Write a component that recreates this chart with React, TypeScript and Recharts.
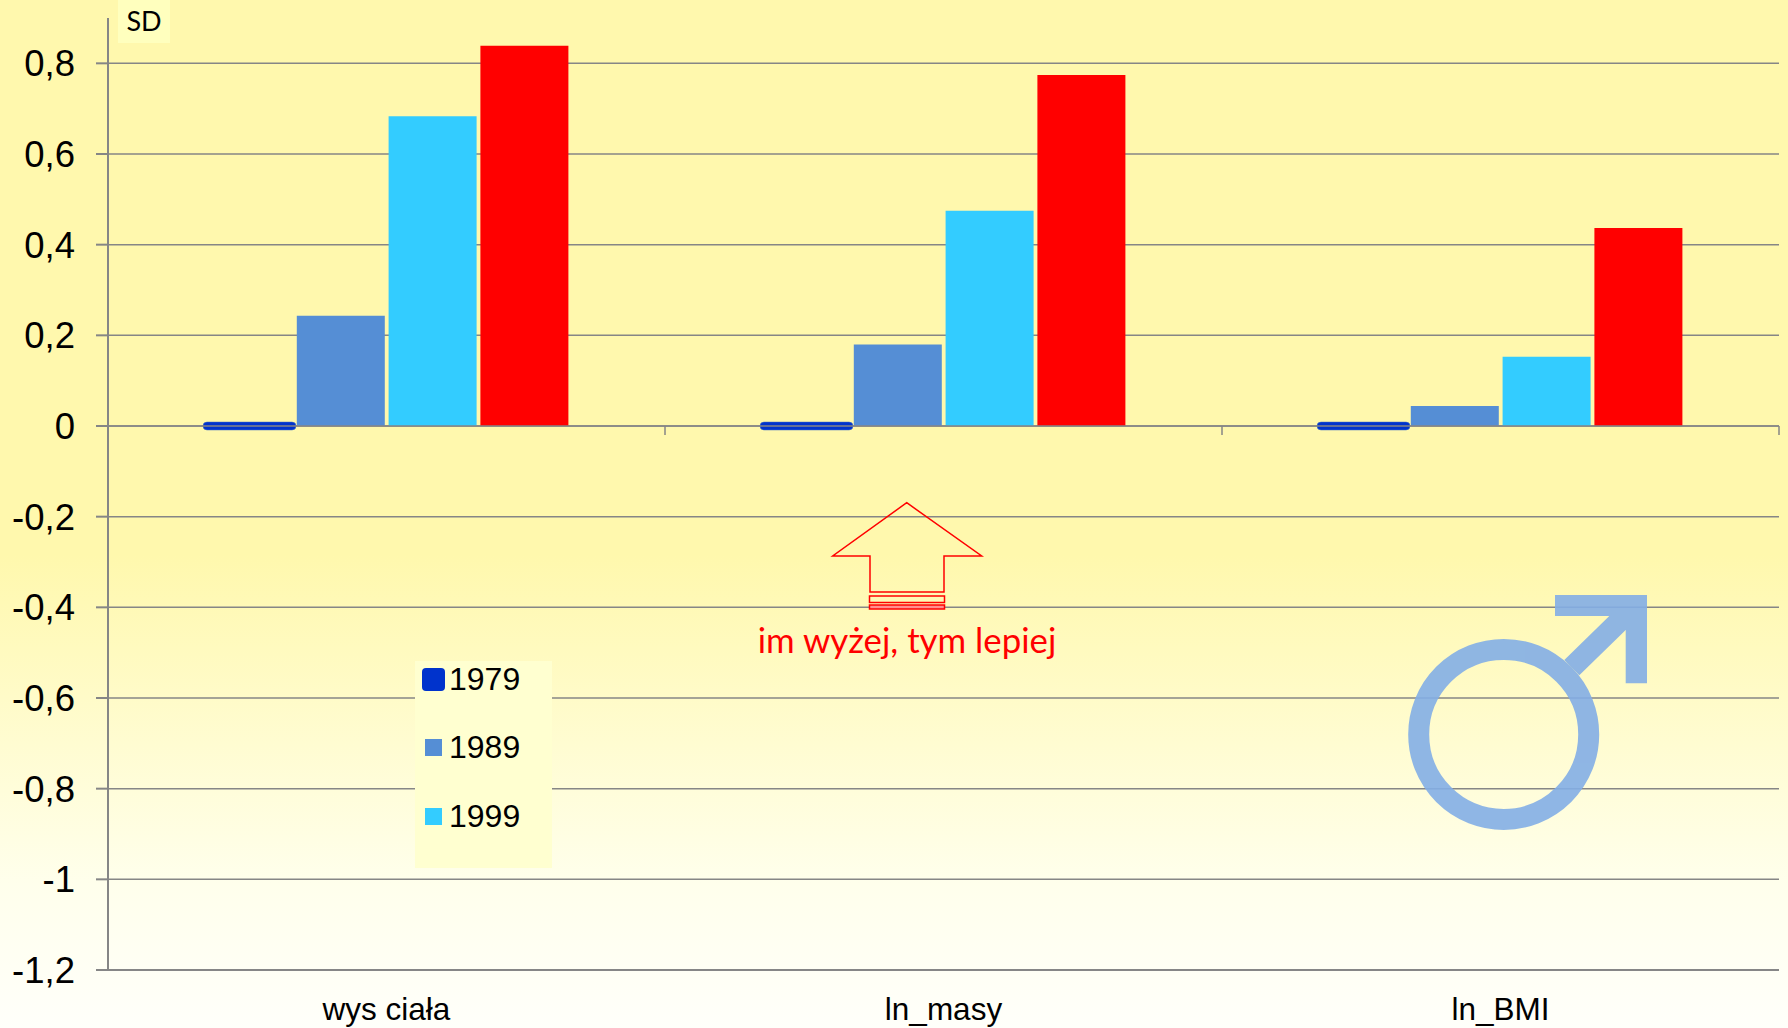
import {
  BarChart,
  Bar,
  XAxis,
  YAxis,
  CartesianGrid,
  ReferenceLine,
  Legend,
} from "recharts";

const categories = ["wys ciała", "ln_masy", "ln_BMI"];
const values1979 = [0, 0, 0];
const values1989 = [0.243, 0.18, 0.044];
const values1999 = [0.683, 0.475, 0.153];
const values2009 = [0.839, 0.774, 0.437];
const yTicks = [-1.2, -1, -0.8, -0.6, -0.4, -0.2, 0, 0.2, 0.4, 0.6, 0.8];

const data = categories.map((name, i) => ({
  name,
  y1979: values1979[i],
  y1989: values1989[i],
  y1999: values1999[i],
  y2009: values2009[i],
}));

const W = 1788;
const H = 1028;
const TOP = 18;
const BOTTOM = 970;
const LEFT = 108;
const RIGHT = 1779;
const CAT_W = (RIGHT - LEFT) / 3;
const ZERO_Y = TOP + (0.9 / 2.1) * (BOTTOM - TOP);
const AXIS = "#868686";
const ARIAL = "'Liberation Sans', Arial, sans-serif";

// the 1979 series is all zeros, drawn in the source as a thick rounded dash
const ZeroBar = (props: any) => (
  <rect
    x={props.x - 2}
    y={props.y - 4}
    width={props.width + 5}
    height={8}
    rx={4}
    fill="#0033CC"
    stroke="#4472C4"
    strokeWidth={0.5}
  />
);

const CategoryTick = ({ x, payload }: any) => (
  <g>
    <line x1={x + CAT_W / 2} x2={x + CAT_W / 2} y1={ZERO_Y} y2={ZERO_Y + 9} stroke={AXIS} strokeWidth={1.5} />
    <text x={x} y={BOTTOM + 50} textAnchor="middle" fontSize={31.5} fontFamily={ARIAL} fill="#000">
      {payload.value}
    </text>
  </g>
);

const LegendBox = ({ payload }: any) => {
  // the red series has no entry in the source legend
  const items = (payload || []).filter((p: any) => p.value !== "2009");
  return (
    <div style={{ position: "relative", width: 137, height: 207, background: "#FFFFD0", fontFamily: ARIAL, fontSize: 32 }}>
      {items.map((p: any, i: number) => {
        const first = i === 0;
        const size = first ? 23 : 17;
        const cy = [18, 86, 155][i];
        return (
          <div key={p.value}>
            <div
              style={{
                position: "absolute",
                left: first ? 7 : 10,
                top: cy - size / 2,
                width: size,
                height: size,
                borderRadius: first ? 4 : 0,
                background: p.color,
              }}
            />
            <div style={{ position: "absolute", left: 34, top: cy - 18, lineHeight: "36px", color: "#000" }}>{p.value}</div>
          </div>
        );
      })}
    </div>
  );
};

export default function App() {
  return (
    <div
      style={{
        position: "relative",
        width: W,
        height: H,
        overflow: "hidden",
        background:
          "linear-gradient(to bottom, #FFF8AD 0%, #FFF8AD 54%, #FFFFEC 86%, #FFFFFA 100%)",
      }}
    >
      <style>{`body{margin:0}`}</style>
      <div style={{ position: "absolute", left: 118, top: 0, width: 52, height: 43, background: "#FFFFBE" }} />
      <BarChart
        width={W}
        height={H}
        data={data}
        margin={{ top: TOP, right: W - RIGHT, bottom: 0, left: 0 }}
        barSize={88}
        barGap={3.8}
        style={{ position: "absolute", left: 0, top: 0 }}
      >
        <CartesianGrid vertical={false} stroke={AXIS} strokeWidth={1.5} syncWithTicks horizontalValues={yTicks} />
        <XAxis
          dataKey="name"
          height={H - BOTTOM}
          axisLine={{ stroke: AXIS, strokeWidth: 2 }}
          tickLine={false}
          tick={<CategoryTick />}
          interval={0}
        />
        <YAxis
          width={LEFT}
          domain={[-1.2, 0.9]}
          ticks={yTicks}
          interval={0}
          tickSize={12}
          tickMargin={21}
          axisLine={{ stroke: AXIS, strokeWidth: 2 }}
          tickLine={{ stroke: AXIS, strokeWidth: 2 }}
          tick={{ fontSize: 36.5, fontFamily: ARIAL, fill: "#000" }}
          tickFormatter={(v: number) => String(v).replace(".", ",")}
        />
        <ReferenceLine y={0} stroke={AXIS} strokeWidth={1.5} />
        <Legend
          layout="horizontal"
          align="center"
          verticalAlign="middle"
          content={<LegendBox />}
          wrapperStyle={{ left: 415, top: 661, width: 137, height: 207, right: "auto", bottom: "auto", margin: 0 }}
        />
        <Bar dataKey="y1979" name="1979" fill="#0033CC" shape={<ZeroBar />} isAnimationActive={false} />
        <Bar dataKey="y1989" name="1989" fill="#558ED5" isAnimationActive={false} />
        <Bar dataKey="y1999" name="1999" fill="#33CCFF" isAnimationActive={false} />
        <Bar dataKey="y2009" name="2009" fill="#FF0000" isAnimationActive={false} />
      </BarChart>

      <svg width={W} height={H} style={{ position: "absolute", left: 0, top: 0, pointerEvents: "none" }}>
        <text x={144} y={31} textAnchor="middle" fontSize={27} fontFamily="Lato, sans-serif" fill="#000">
          SD
        </text>
        <polygon
          points="906.7,502.7 981.7,556 944,556 944,592 870,592 870,556 832.7,556"
          fill="none"
          stroke="#FF0000"
          strokeWidth={1.5}
        />
        <rect x={869.5} y={596} width={75} height={6.5} fill="none" stroke="#FF0000" strokeWidth={1.5} />
        <rect x={869.5} y={605} width={75} height={4} fill="#FF9090" stroke="#FF0000" strokeWidth={1.5} />
        <text x={907} y={653} textAnchor="middle" fontSize={34.8} fontFamily="Lato, sans-serif" fill="#FF0000">
          im wyżej, tym lepiej
        </text>
        <g opacity={0.9}>
          <circle cx={1503.7} cy={734.4} r={85} fill="none" stroke="#83AEE6" strokeWidth={21} />
          <polygon
            points="1555,595 1647,595 1647,683.3 1625.7,683.3 1625.7,630 1579.3,675.3 1564.3,660 1609.3,616 1555,616"
            fill="#83AEE6"
          />
        </g>
      </svg>
    </div>
  );
}
